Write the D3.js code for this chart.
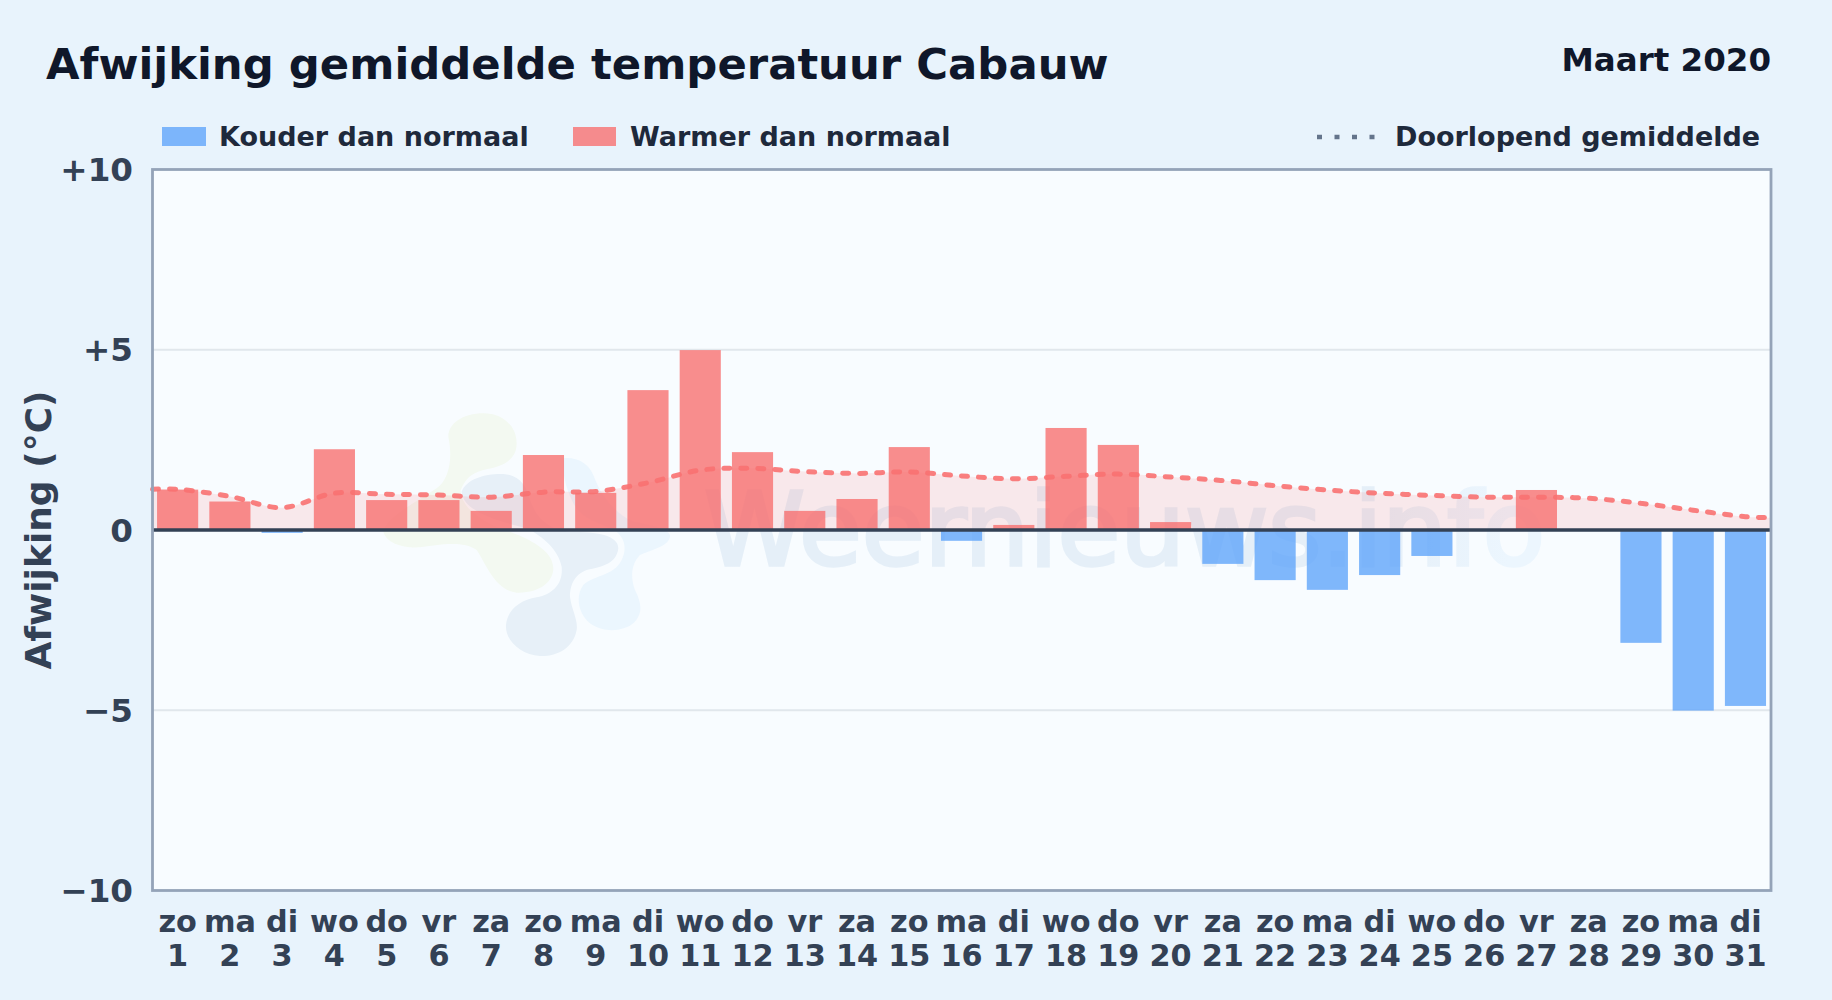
<!DOCTYPE html>
<html><head><meta charset="utf-8">
<script src="https://cdn.jsdelivr.net/npm/d3@7/dist/d3.min.js"></script>
<style>html,body{margin:0;padding:0;background:#e8f3fc;overflow:hidden}svg{display:block}text{font-family:"DejaVu Sans";font-weight:700}</style>
</head><body><svg id="c" width="1832" height="1000"></svg>
<script>
const weekdays=["zo","ma","di","wo","do","vr","za","zo","ma","di","wo","do","vr","za","zo","ma","di","wo","do","vr","za","zo","ma","di","wo","do","vr","za","zo","ma","di"];
const days=d3.range(1,32);
const anomaly=[1.12,0.79,-0.08,2.24,0.83,0.83,0.53,2.08,1.03,3.88,4.99,2.16,0.53,0.86,2.30,-0.30,0.14,2.83,2.36,0.22,-0.94,-1.39,-1.66,-1.25,-0.72,0,1.11,0,-3.13,-5.01,-4.88];
const runningMean=[1.13,0.93,0.62,1.02,0.99,0.97,0.91,1.05,1.07,1.31,1.66,1.71,1.62,1.57,1.61,1.50,1.42,1.49,1.55,1.47,1.37,1.23,1.11,1.02,0.96,0.91,0.91,0.88,0.74,0.55,0.37];
const yTicks=[10,5,0,-5,-10];
const yTickLabels=["+10","+5","0","−5","−10"];
const legendLabels=["Kouder dan normaal","Warmer dan normaal","Doorlopend gemiddelde"];
const colors={cold:"#60a5fa",warm:"#f87171",ink:"#334155",legend:"#1e293b",title:"#0f172a",frame:"#94a3b8",grid:"#e1e7ec",plot:"#f8fcff"};

const svg=d3.select("#c");
const L=152.5,R=1771,T=169.5,B=890.5;
const x=d3.scaleBand().domain(days).range([151.5,1771.6]).paddingInner(0.213).paddingOuter(0.1065);
const y=d3.scaleLinear().domain([-10,10]).range([B,T]);

svg.append("rect").attr("width",1832).attr("height",1000).attr("fill","#e8f3fc");
svg.append("rect").attr("x",L).attr("y",T).attr("width",R-L).attr("height",B-T).attr("fill",colors.plot);

// watermark
const defs=svg.append("defs");
const grad=defs.append("linearGradient").attr("id","wmg").attr("gradientUnits","userSpaceOnUse").attr("x1",700).attr("x2",1550).attr("y1",0).attr("y2",0);
grad.append("stop").attr("offset","0.8").attr("stop-color","#e5eff8");
grad.append("stop").attr("offset","0.95").attr("stop-color","#ecf6fe");
const wm=svg.append("g");
wm.append("g").attr("transform","translate(370,390) scale(0.3333)").selectAll("path").data([
 {f:"#f3f9f1",d:"M340,70 C400,70 440,110 440,160 C440,210 400,230 340,240 C300,250 285,270 272,300 C270,345 330,400 420,425 C500,455 550,490 550,535 C550,575 510,610 440,608 C375,600 350,525 320,480 C280,450 200,465 150,472 C100,475 50,460 40,425 C50,380 150,330 200,295 C235,270 250,210 235,140 C235,100 280,70 340,70Z"},
 {f:"#e7f0f8",d:"M275,305 C290,265 350,250 400,252 C450,255 470,290 480,330 C500,390 540,420 600,425 C680,425 745,435 745,475 C740,520 700,530 650,540 C610,555 600,590 600,620 C605,660 625,690 620,720 C610,775 560,800 510,798 C450,795 405,750 408,705 C412,660 450,630 500,622 C550,612 580,580 575,530 C565,480 520,440 470,415 C400,395 280,370 275,305Z"},
 {f:"#ebf6fe",d:"M580,205 C620,200 655,220 670,255 C690,310 730,370 790,395 C850,405 905,420 900,440 C895,470 840,480 810,495 C785,520 780,560 795,600 C815,640 820,670 790,700 C760,725 700,730 660,700 C625,670 615,620 640,585 C670,555 730,560 755,510 C775,470 760,430 720,415 C680,395 640,390 610,340 C590,300 575,250 580,205Z"}
]).join("path").attr("d",d=>d.d).attr("fill",d=>d.f);
wm.append("text").attr("x",704).attr("y",565).attr("font-size",102).attr("fill","url(#wmg)").attr("stroke","url(#wmg)").attr("stroke-width",3.5).style("font-weight",400).text("Weernieuws.info");

// grid
svg.append("g").selectAll("line").data(yTicks.filter(t=>t===5||t===-5)).join("line")
 .attr("x1",L).attr("x2",R).attr("y1",d=>y(d)).attr("y2",d=>y(d)).attr("stroke",colors.grid).attr("stroke-width",2);

// area and line
const mid=i=>x(days[i])+x.bandwidth()/2;
const pts=runningMean.map((v,i)=>[mid(i),v]);
const linePts=[[L,runningMean[0]],...pts,[R,runningMean[30]-0.03]];
const areaGen=d3.area().x(d=>d[0]).y0(y(0)).y1(d=>y(d[1])).curve(d3.curveCatmullRom.alpha(0.5));
const lineGen=d3.line().x(d=>d[0]).y(d=>y(d[1])).curve(d3.curveCatmullRom.alpha(0.5));
svg.append("path").attr("d",areaGen(linePts)).attr("fill",colors.warm).attr("fill-opacity",0.14);

// bars
svg.append("g").selectAll("rect").data(anomaly.map((v,i)=>({v,d:days[i]}))).join("rect")
 .attr("x",d=>x(d.d)).attr("width",x.bandwidth())
 .attr("y",d=>y(Math.max(0,d.v))).attr("height",d=>Math.abs(y(d.v)-y(0)))
 .attr("fill",d=>d.v<0?colors.cold:colors.warm).attr("fill-opacity",0.8);

svg.append("path").attr("d",lineGen(linePts)).attr("fill","none").attr("stroke",colors.warm).attr("stroke-width",5).attr("stroke-dasharray","6 11").attr("stroke-linecap","round").attr("stroke-opacity",.9);

// zero line & frame
svg.append("line").attr("x1",L).attr("x2",R).attr("y1",y(0)).attr("y2",y(0)).attr("stroke",colors.ink).attr("stroke-width",3.6);
svg.append("rect").attr("x",L).attr("y",T).attr("width",R-L).attr("height",B-T).attr("fill","none").attr("stroke",colors.frame).attr("stroke-width",2.8);

// y ticks
svg.append("g").selectAll("text").data(yTicks).join("text")
 .attr("x",133).attr("y",d=>y(d)).attr("dy","0.36em").attr("text-anchor","end").attr("font-size",32.6).attr("fill",colors.ink)
 .text((d,i)=>yTickLabels[i]);
// x ticks
const xt=svg.append("g").selectAll("g").data(days).join("g").attr("transform",d=>`translate(${x(d)+x.bandwidth()/2},0)`);
xt.append("text").attr("y",932).attr("text-anchor","middle").attr("font-size",30.3).attr("fill",colors.ink).text((d,i)=>weekdays[i]);
xt.append("text").attr("y",965.5).attr("text-anchor","middle").attr("font-size",30.3).attr("fill",colors.ink).text(d=>d);

// axis title
svg.append("text").attr("transform","translate(51,530) rotate(-90)").attr("text-anchor","middle").attr("font-size",36).attr("fill",colors.ink).text("Afwijking (°C)");

// titles
svg.append("text").attr("x",46).attr("y",79).attr("font-size",43.35).attr("fill",colors.title).text("Afwijking gemiddelde temperatuur Cabauw");
svg.append("text").attr("x",1771).attr("y",71).attr("text-anchor","end").attr("font-size",32.5).attr("fill",colors.title).text("Maart 2020");

// legend
const leg=svg.append("g");
leg.append("rect").attr("x",162).attr("y",127).attr("width",44).attr("height",19).attr("fill",colors.cold).attr("fill-opacity",.8);
leg.append("text").attr("x",219).attr("y",146).attr("font-size",27).attr("fill",colors.legend).text(legendLabels[0]);
leg.append("rect").attr("x",573).attr("y",127).attr("width",43).attr("height",19).attr("fill",colors.warm).attr("fill-opacity",.8);
leg.append("text").attr("x",630).attr("y",146).attr("font-size",27).attr("fill",colors.legend).text(legendLabels[1]);
leg.append("line").attr("x1",1317).attr("x2",1376).attr("y1",137).attr("y2",137).attr("stroke","#64748b").attr("stroke-width",4.5).attr("stroke-dasharray","5 12.5");
leg.append("text").attr("x",1395).attr("y",146).attr("font-size",27).attr("fill",colors.legend).text(legendLabels[2]);
</script></body></html>
